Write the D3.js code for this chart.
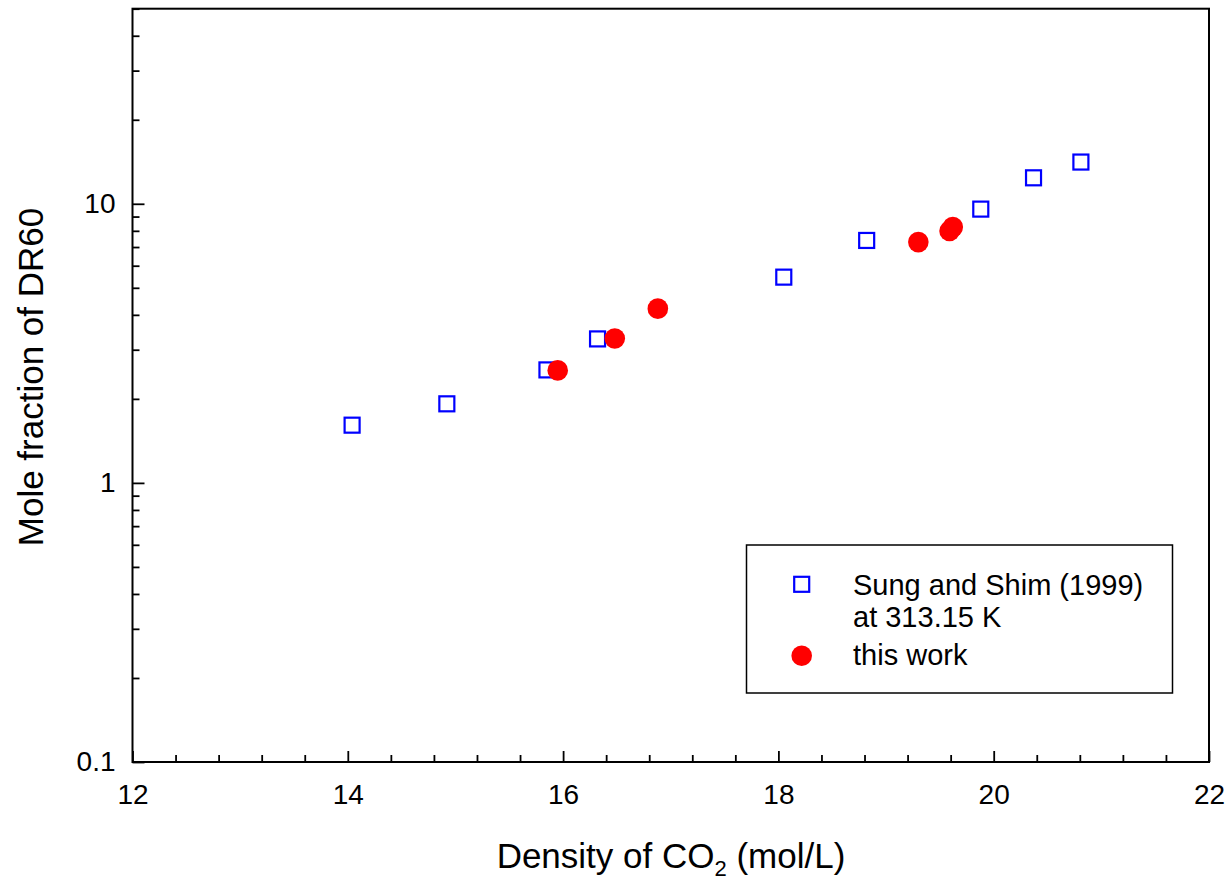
<!DOCTYPE html>
<html>
<head>
<meta charset="utf-8">
<script src="https://d3js.org/d3.v7.min.js"></script>
<style>
  body { margin: 0; background: #fff; }
  svg { font-family: "Liberation Sans", Arial, sans-serif; }
  .tick text { font-size: 28px; fill: #000; }
  .tick line { stroke: #000; stroke-width: 1.8; }
</style>
</head>
<body>
<svg id="chart" width="1229" height="882"></svg>
<script>
// Sung and Shim (1999), 313.15 K
var refDensity = [14.04, 14.92, 15.85, 16.32, 18.05, 18.82, 19.88, 20.37, 20.81];
var refMole    = [1.61, 1.92, 2.54, 3.28, 5.46, 7.39, 9.57, 12.39, 14.11];

// this work
var ownDensity = [15.95, 16.48, 16.88, 19.30, 19.59, 19.62];
var ownMole    = [2.53, 3.29, 4.21, 7.29, 7.99, 8.25];

var xTicks = [12, 14, 16, 18, 20, 22];
var yTicks = [0.1, 1, 10];
var yTickLabels = ["0.1", "1", "10"];

var margin = {left: 132.5, top: 8.7, right: 20, bottom: 120};
var width = 1229 - margin.left - margin.right;   // plot ends near x = 1209
var height = 882 - margin.top - margin.bottom;   // plot ends near y = 762

var svg = d3.select("#chart");
var g = svg.append("g").attr("transform", "translate(" + margin.left + "," + margin.top + ")");

var x = d3.scaleLinear().domain([12, 22]).range([0, width]);
var y = d3.scaleLog().domain([0.1, 50]).range([height, 0]);

// minor ticks
var xMinor = d3.range(12, 22.001, 0.4).filter(function(v) { return Math.abs(v / 2 - Math.round(v / 2)) > 0.01; });
var yMinor = [];
[0.1, 1, 10].forEach(function(d) {
  for (var k = 2; k <= 9; k++) { if (d * k <= 50) yMinor.push(d * k); }
});

g.append("g")
  .attr("transform", "translate(0," + height + ")")
  .call(d3.axisBottom(x).tickValues(xMinor).tickSize(-7).tickFormat(""))
  .call(function(a) { a.select(".domain").remove(); });

g.append("g")
  .attr("transform", "translate(0," + height + ")")
  .call(d3.axisBottom(x).tickValues(xTicks).tickSize(-11).tickPadding(22).tickFormat(d3.format("d")))
  .call(function(a) { a.select(".domain").remove(); });

g.append("g")
  .call(d3.axisLeft(y).tickValues(yMinor).tickSize(-7).tickFormat(""))
  .call(function(a) { a.select(".domain").remove(); });

g.append("g")
  .call(d3.axisLeft(y).tickValues(yTicks).tickSize(-12).tickPadding(17)
    .tickFormat(function(d, i) { return yTickLabels[i]; }))
  .call(function(a) { a.select(".domain").remove(); });

svg.selectAll(".tick text").attr("font-family", null).attr("font-size", null);

// frame
g.append("rect")
  .attr("width", width)
  .attr("height", height)
  .attr("fill", "none")
  .attr("stroke", "#000")
  .attr("stroke-width", 2);

// reference data, open squares
var sq = 15;
g.selectAll("rect.ref")
  .data(refDensity)
  .enter().append("rect")
  .attr("class", "ref")
  .attr("x", function(d) { return x(d) - sq / 2; })
  .attr("y", function(d, i) { return y(refMole[i]) - sq / 2; })
  .attr("width", sq)
  .attr("height", sq)
  .attr("fill", "none")
  .attr("stroke", "#0000ff")
  .attr("stroke-width", 2.2);

// measured data, filled circles
g.selectAll("circle.own")
  .data(ownDensity)
  .enter().append("circle")
  .attr("class", "own")
  .attr("cx", function(d) { return x(d); })
  .attr("cy", function(d, i) { return y(ownMole[i]); })
  .attr("r", 10.3)
  .attr("fill", "#ff0000");

// axis titles
svg.append("text")
  .attr("x", 671)
  .attr("y", 868)
  .attr("text-anchor", "middle")
  .attr("font-size", 35)
  .call(function(t) {
    t.append("tspan").text("Density of CO");
    t.append("tspan").attr("font-size", 22).attr("dy", 8).text("2");
    t.append("tspan").attr("dy", -8).text(" (mol/L)");
  });

svg.append("text")
  .attr("transform", "translate(43,377) rotate(-90)")
  .attr("text-anchor", "middle")
  .attr("font-size", 35)
  .text("Mole fraction of DR60");

// legend
var lg = svg.append("g");
lg.append("rect")
  .attr("x", 746.5).attr("y", 545)
  .attr("width", 426).attr("height", 148)
  .attr("fill", "#fff")
  .attr("stroke", "#000")
  .attr("stroke-width", 1.5);
lg.append("rect")
  .attr("x", 801.7 - sq / 2).attr("y", 584.3 - sq / 2)
  .attr("width", sq).attr("height", sq)
  .attr("fill", "none").attr("stroke", "#0000ff").attr("stroke-width", 2.2);
lg.append("circle")
  .attr("cx", 801.7).attr("cy", 655.7).attr("r", 10.3)
  .attr("fill", "#ff0000");
var legendLines = [["Sung and Shim (1999)", 595], ["at 313.15 K", 627], ["this work", 665]];
lg.selectAll("text.lbl")
  .data(legendLines)
  .enter().append("text")
  .attr("class", "lbl")
  .attr("x", 853)
  .attr("y", function(d) { return d[1]; })
  .attr("font-size", 29)
  .text(function(d) { return d[0]; });
</script>
</body>
</html>
